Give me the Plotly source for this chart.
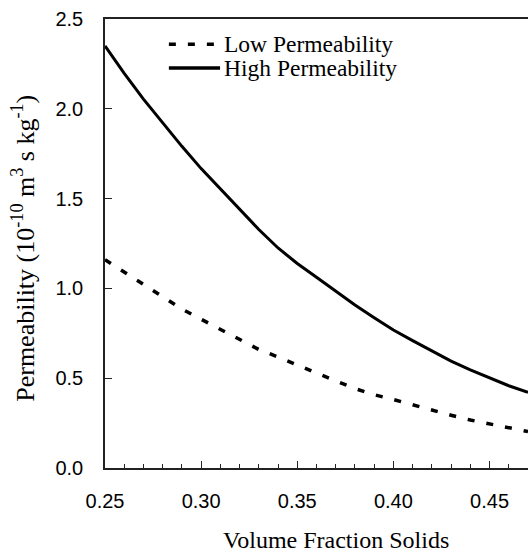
import plotly.graph_objects as go

# Volume fraction solids and permeability (10^-10 m^3 s kg^-1)
volume_fraction = [0.25, 0.26, 0.27, 0.28, 0.29, 0.30, 0.31, 0.32, 0.33, 0.34, 0.35, 0.36,
                   0.37, 0.38, 0.39, 0.40, 0.41, 0.42, 0.43, 0.44, 0.45, 0.46, 0.47]
low_perm = [1.16, 1.09, 1.024, 0.952, 0.885, 0.828, 0.773, 0.714, 0.66, 0.618, 0.572, 0.527,
            0.485, 0.442, 0.408, 0.381, 0.351, 0.322, 0.294, 0.267, 0.245, 0.221, 0.203]
high_perm = [2.35, 2.197, 2.054, 1.92, 1.791, 1.667, 1.552, 1.439, 1.328, 1.225, 1.139, 1.062,
             0.985, 0.908, 0.837, 0.768, 0.709, 0.65, 0.595, 0.546, 0.5, 0.458, 0.421]

series_names = ["Low Permeability", "High Permeability"]
x_ticks = [0.25, 0.30, 0.35, 0.40, 0.45]
y_ticks = [0.0, 0.5, 1.0, 1.5, 2.0, 2.5]

SERIF = "Liberation Serif, Times New Roman, serif"
SANS = "Liberation Sans, Arial, sans-serif"
DASH = "7px,12px"

fig = go.Figure()
fig.add_trace(go.Scatter(x=volume_fraction, y=low_perm, mode="lines", name=series_names[0],
                         line=dict(color="black", width=3.5, dash=DASH), showlegend=False))
fig.add_trace(go.Scatter(x=volume_fraction, y=high_perm, mode="lines", name=series_names[1],
                         line=dict(color="black", width=3), showlegend=False))

# Hand-drawn key with longer line samples
key_rows = [(0.944, DASH, 3.5), (0.891, "solid", 3.5)]
for (ky, dash, w), name in zip(key_rows, series_names):
    fig.add_shape(type="line", xref="paper", yref="paper", x0=0.151, x1=0.272, y0=ky, y1=ky,
                  line=dict(color="black", width=w, dash=dash))
    fig.add_annotation(xref="paper", yref="paper", x=0.277, y=ky, text=name, showarrow=False,
                       xanchor="left", yanchor="middle", font=dict(family=SERIF, size=23.5, color="black"))

# Axis titles
fig.add_annotation(xref="paper", yref="paper", x=0.546, y=-0.160, text="Volume Fraction Solids",
                   showarrow=False, xanchor="center", yanchor="middle",
                   font=dict(family=SERIF, size=24, color="black"))
fig.add_annotation(xref="paper", yref="paper", x=-0.192, y=0.49,
                   text="Permeability (10<sup>-10</sup> m<sup>3</sup> s kg<sup>-1</sup>)",
                   textangle=-90, showarrow=False, xanchor="center", yanchor="middle",
                   font=dict(family=SERIF, size=26, color="black"))

fig.update_layout(
    width=530, height=556,
    margin=dict(l=105, r=2, t=19, b=88),
    paper_bgcolor="white", plot_bgcolor="white",
    xaxis=dict(range=[0.25, 0.47], tickvals=x_ticks, ticktext=[f"{v:.2f}" for v in x_ticks],
               ticks="inside", ticklen=7, tickwidth=1.2, tickcolor="#222",
               minor=dict(dtick=0.01, ticks="inside", ticklen=4, tickwidth=1.2, tickcolor="#222"),
               showline=True, linecolor="#222", linewidth=1.5, mirror=True,
               showgrid=False, zeroline=False, ticklabelstandoff=14,
               tickfont=dict(family=SANS, size=20, color="black")),
    yaxis=dict(range=[0, 2.5], tickvals=y_ticks, ticktext=[f"{v:.1f}" for v in y_ticks],
               ticks="inside", ticklen=7, tickwidth=1.2, tickcolor="#222",
               showline=True, linecolor="#222", linewidth=1.5,
               showgrid=False, zeroline=False, ticklabelstandoff=16,
               tickfont=dict(family=SANS, size=20, color="black")),
)

fig.write_html("out.html")
